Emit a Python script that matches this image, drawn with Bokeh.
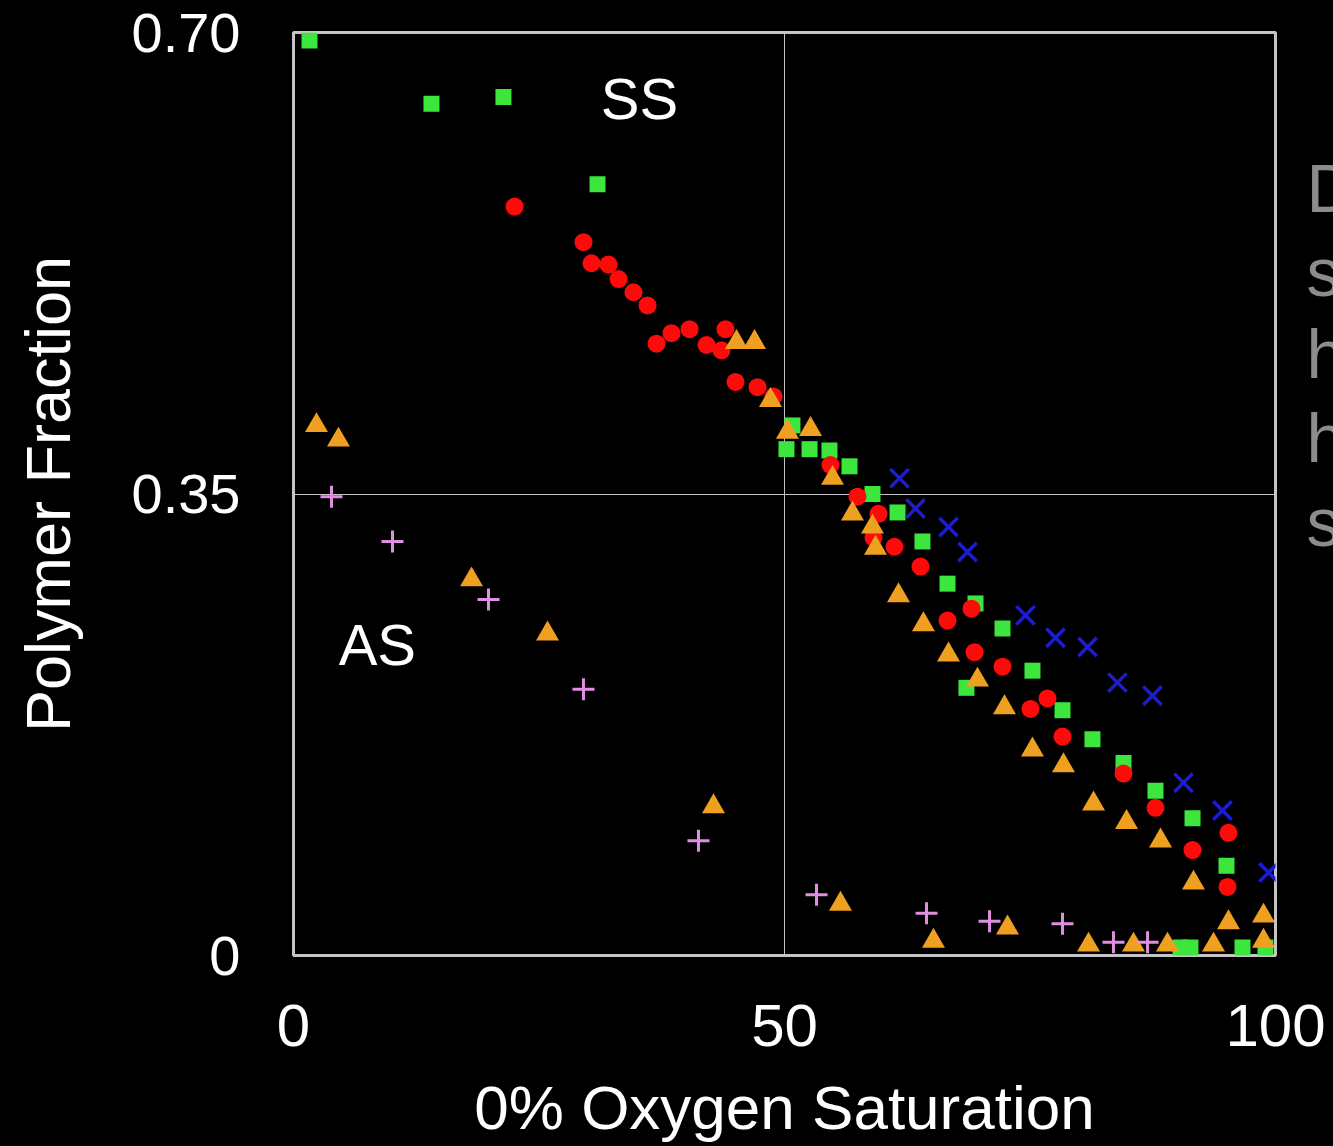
from bokeh.plotting import figure
from bokeh.models import Range1d, FixedTicker, Label, LinearAxis
from bokeh.embed import file_html
from bokeh.resources import INLINE

# ---- data ----
sq_x = [1.63, 14.05, 21.38, 30.96, 50.81, 50.20, 52.55, 54.58, 56.62, 58.96, 61.51, 64.05,
        66.60, 69.45, 72.20, 75.25, 68.53, 78.31, 81.36, 84.52, 87.78, 91.55, 95.01,
        90.33, 91.34, 96.64, 98.98]
sq_y = [0.694, 0.646, 0.651, 0.585, 0.402, 0.384, 0.384, 0.383, 0.371, 0.350, 0.336, 0.314,
        0.282, 0.267, 0.248, 0.216, 0.203, 0.186, 0.164, 0.146, 0.125, 0.104, 0.068,
        0.006, 0.006, 0.006, 0.006]

ci_x = [22.51, 29.53, 30.35, 32.08, 33.10, 34.62, 36.05, 36.97, 38.49, 40.33, 42.06, 43.58,
        43.99, 45.01, 47.25, 48.88, 54.68, 57.43, 59.57, 59.06, 61.20, 63.85, 69.04, 66.60,
        69.35, 72.20, 75.05, 76.78, 78.31, 84.52, 87.78, 91.55, 95.21, 95.11]
ci_y = [0.568, 0.541, 0.525, 0.524, 0.513, 0.503, 0.493, 0.464, 0.472, 0.475, 0.463, 0.459,
        0.475, 0.435, 0.431, 0.424, 0.372, 0.348, 0.335, 0.317, 0.310, 0.295, 0.263, 0.254,
        0.230, 0.219, 0.187, 0.195, 0.166, 0.138, 0.112, 0.080, 0.093, 0.052]

tr_x = [2.34, 4.58, 18.13, 25.87, 42.77, 45.11, 46.95, 48.57, 52.65, 50.30, 54.89, 56.92,
        58.96, 59.27, 61.61, 64.15, 66.70, 69.65, 72.40, 75.25, 78.41, 81.47, 84.83, 88.29,
        91.65, 95.21, 98.78, 55.70, 65.17, 72.71, 80.96, 85.54, 89.00, 93.69, 98.78]
tr_y = [0.402, 0.391, 0.285, 0.244, 0.113, 0.465, 0.465, 0.421, 0.399, 0.397, 0.362, 0.335,
        0.325, 0.309, 0.273, 0.251, 0.228, 0.209, 0.188, 0.156, 0.144, 0.115, 0.101, 0.087,
        0.055, 0.025, 0.030, 0.039, 0.011, 0.021, 0.008, 0.008, 0.008, 0.008, 0.011]

xm_x = [61.71, 63.34, 66.70, 68.64, 74.54, 77.60, 80.86, 83.91, 87.47, 90.63, 94.60, 99.29]
xm_y = [0.362, 0.339, 0.325, 0.306, 0.258, 0.241, 0.234, 0.207, 0.197, 0.131, 0.110, 0.063]

pl_x = [3.87, 10.08, 19.86, 29.53, 41.24, 53.26, 64.46, 70.88, 78.31, 83.50, 86.97]
pl_y = [0.348, 0.314, 0.270, 0.202, 0.087, 0.046, 0.032, 0.026, 0.024, 0.010, 0.010]

x_ticks = [0, 50, 100]
x_tick_labels = ["0", "50", "100"]
y_ticks = [0, 0.35, 0.70]
y_tick_labels = ["0", "0.35", "0.70"]

x_title = "0% Oxygen Saturation"
y_title = "Polymer Fraction"

# annotations inside the plot
ann_text = ["SS", "AS"]
ann_x = [31.3, 4.6]
ann_y = [0.650, 0.236]

# slide text cut off by the right edge of the picture (first letters only visible)
side_text = ["D", "s", "h", "h", "s"]
side_y = [0.5817, 0.5187, 0.4565, 0.3921, 0.3291]

FONT = "Liberation Sans"

p = figure(frame_width=982, frame_height=923,
           min_border_left=293, min_border_right=58, min_border_top=32, min_border_bottom=0,
           x_range=Range1d(0, 100), y_range=Range1d(0, 0.70),
           output_backend="svg", toolbar_location=None,
           background_fill_color="black", border_fill_color="black")

p.outline_line_color = "#c4c4c4"
p.outline_line_width = 3

p.xaxis.ticker = FixedTicker(ticks=x_ticks)
p.yaxis.ticker = FixedTicker(ticks=y_ticks)
p.xgrid.ticker = FixedTicker(ticks=x_ticks)
p.ygrid.ticker = FixedTicker(ticks=y_ticks)
p.xaxis.major_label_overrides = dict(zip(x_ticks, x_tick_labels))
p.yaxis.major_label_overrides = dict(zip(y_ticks, y_tick_labels))
p.grid.grid_line_color = "#c4c4c4"
p.grid.grid_line_width = 1

# right-side slide text rendered as labels of an extra right axis
side_axis = LinearAxis(ticker=FixedTicker(ticks=side_y),
                       major_label_overrides=dict(zip(side_y, side_text)))
p.add_layout(side_axis, "right")

for ax in (p.xaxis[0], p.yaxis[0], side_axis):
    ax.axis_line_color = None
    ax.major_tick_line_color = None
    ax.minor_tick_line_color = None
    ax.major_tick_in = 0
    ax.major_tick_out = 0
    ax.major_label_text_color = "white"
    ax.major_label_text_font = FONT
    ax.axis_label_text_color = "white"
    ax.axis_label_text_font = FONT
    ax.axis_label_text_font_style = "normal"

side_axis.major_label_text_color = "#8c8c8c"
side_axis.major_label_text_font_size = "68px"
side_axis.major_label_standoff = 31

p.xaxis[0].major_label_text_font_size = "60px"
p.yaxis[0].major_label_text_font_size = "56px"
p.xaxis[0].axis_label_text_font_size = "62px"
p.yaxis[0].axis_label_text_font_size = "63px"
p.xaxis[0].major_label_standoff = 49
p.yaxis[0].major_label_standoff = 53
p.xaxis[0].axis_label_standoff = 24
p.yaxis[0].axis_label_standoff = 46
p.xaxis[0].axis_label = x_title
p.yaxis[0].axis_label = y_title

# series
p.scatter(sq_x, sq_y, marker="square", size=16, fill_color="#3ce63c", line_color=None)
p.scatter(ci_x, ci_y, marker="circle", size=18, fill_color="#ff0a0a", line_color=None)
p.scatter(tr_x, tr_y, marker="triangle", size=23, fill_color="#f0a020", line_color=None)
p.scatter(xm_x, xm_y, marker="x", size=26, line_color="#1c1cd0", line_width=3.5)
p.scatter(pl_x, pl_y, marker="cross", size=22, line_color="#e08ee0", line_width=3)

for t, x, y in zip(ann_text, ann_x, ann_y):
    p.add_layout(Label(x=x, y=y, text=t, text_color="white", text_font=FONT,
                       text_font_size="58px", text_baseline="alphabetic"))

html = file_html(p, INLINE)
html = html.replace("<body>", '<body style="background-color:black;overflow:hidden;">')
open("out.html", "w").write(html)
